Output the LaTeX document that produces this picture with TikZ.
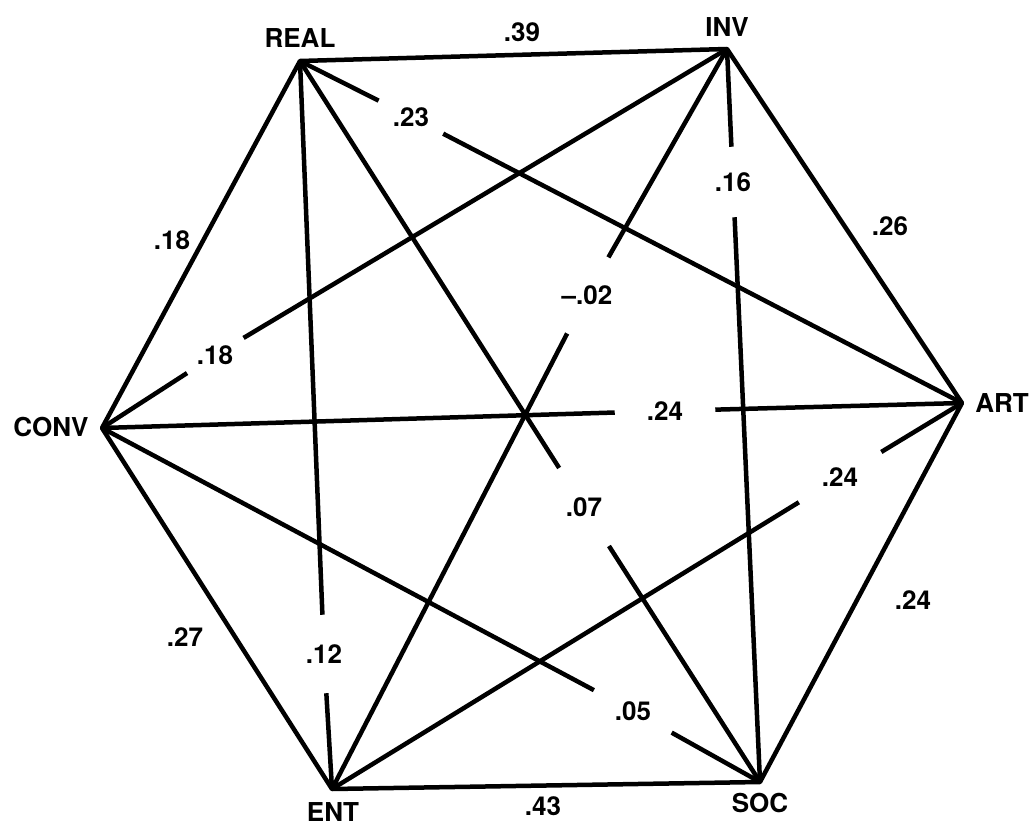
\documentclass[tikz,border=0pt]{standalone}
\usepackage{fontspec}
\setmainfont{TeX Gyre Heros}
\usepackage{tikz}
\usetikzlibrary{positioning,calc}

\begin{document}
\begin{tikzpicture}[x=0.025cm,y=-0.025cm,
        every node/.style={font=\fontsize{18.5}{20}\selectfont\bfseries},
        hexline/.style={line width=3.2pt,line join=round},
        corr/.style={circle,inner sep=0pt,minimum size=#1}]
    \useasboundingbox (0,0) rectangle (1032,827);

    % Corners of the hexagon
    \coordinate (real) at (300,61);
    \coordinate (inv) at (727,49);
    \coordinate (art) at (962,403);
    \coordinate (soc) at (760,782);
    \coordinate (ent) at (332,789);
    \coordinate (conv) at (102,428);

    % Type names
    \node (realtxt) at (300,38) {REAL};
    \node (invtxt) at (727,27) {INV};
    \node (arttxt) at (1002,403) {ART};
    \node (soctxt) at (760,803) {SOC};
    \node (enttxt) at (333,812) {ENT};
    \node (convtxt) at (51,427) {CONV};

    % Outer hexagon
    \draw[hexline] (real) -- (inv) -- (art) -- (soc) -- (ent) -- (conv) -- cycle;
    \node (ri) at (522,32) {.39};
    \node (ia) at (890,226) {.26};
    \node (as) at (913,600) {.24};
    \node (se) at (543,806) {.43};
    \node (ec) at (185,637) {.27};
    \node (cr) at (172,240) {.18};

    % Diagonals, broken at their values
    \node[corr=1.8cm] (ra) at (411,117) {.23};
    \draw[hexline] (real) -- (ra) (ra) -- (art);
    \node[corr=2.3cm] (rs) at (584,507) {.07};
    \draw[hexline] (real) -- (rs) (rs) -- (soc);
    \node[corr=1.95cm] (re) at (324,654) {.12};
    \draw[hexline] (real) -- (re) (re) -- (ent);
    \node[corr=1.65cm] (ic) at (215,355) {.18};
    \draw[hexline] (inv) -- (ic) (ic) -- (conv);
    \node[corr=2.15cm] (ie) at (587,295) {\textendash.02};
    \draw[hexline] (inv) -- (ie) (ie) -- (ent);
    \node[corr=1.75cm] (is) at (733,182) {.16};
    \draw[hexline] (inv) -- (is) (is) -- (soc);
    \node[corr=2.5cm] (ca) at (665,411) {.24};
    \draw[hexline] (conv) -- (ca) (ca) -- (art);
    \node[corr=2.2cm] (cs) at (633,711) {.05};
    \draw[hexline] (conv) -- (cs) (cs) -- (soc);
    \node[corr=2.4cm] (ae) at (840,477) {.24};
    \draw[hexline] (art) -- (ae) (ae) -- (ent);
\end{tikzpicture}
\end{document}
